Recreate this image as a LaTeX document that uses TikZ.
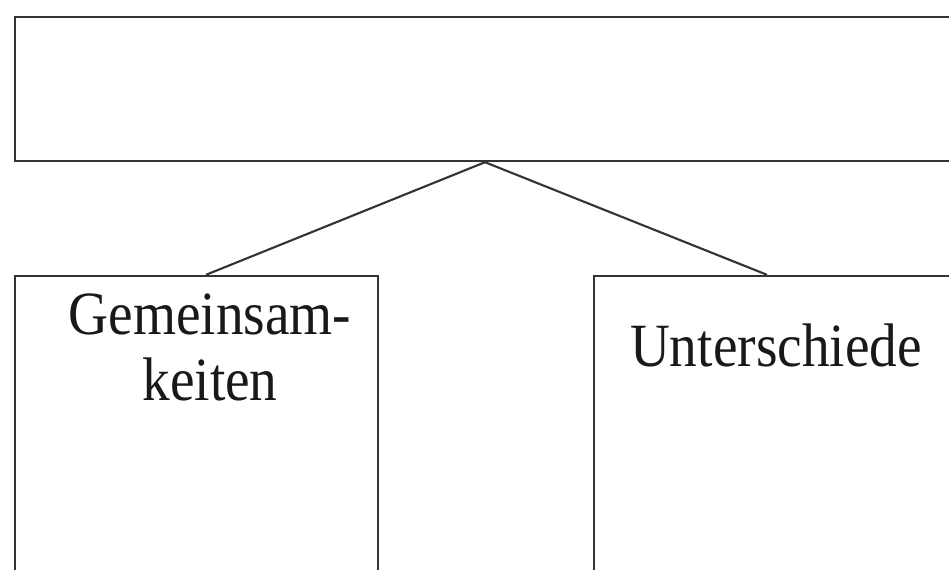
\documentclass[tikz,border=0pt]{standalone}
\usepackage{fontspec}
\setmainfont{Liberation Serif}
\usepackage{tikz}
\usetikzlibrary{calc}
\usetikzlibrary{positioning}
\tikzstyle{boxnode}=[draw=black!80, line width=1.4pt, shape=rectangle, fill=white, inner sep=0pt]
\tikzstyle{labelnode}=[black!90, inner sep=0pt, align=center, anchor=north, font=\fontsize{35}{38}\selectfont, xscale=0.9]
\tikzstyle{linkline}=[draw=black!80, line width=1.2pt]

\begin{document}
\begin{tikzpicture}[x=0.02cm, y=-0.02cm]
\useasboundingbox (0,0) rectangle (949,570);
\clip (0,0) rectangle (949,570);
\node [boxnode, minimum width=18.8cm, minimum height=2.88cm] (vergleich) at (485,89) {};
\node [boxnode, minimum width=7.26cm, minimum height=8.48cm] (gemein) at (196.5,488) {};
\node [boxnode, minimum width=8.12cm, minimum height=8.48cm] (unter) at (797,488) {};
\node [labelnode] (gemeinlabel) at (210,293) {Gemeinsam-\\keiten};
\node [labelnode] (unterlabel) at (776,323) {Unterschiede};

\draw[linkline] (vergleich.south) -- ([xshift=0.19cm]gemein.north);
\draw[linkline] (vergleich.south) -- ([xshift=-0.6cm]unter.north);
\end{tikzpicture}
\end{document}
